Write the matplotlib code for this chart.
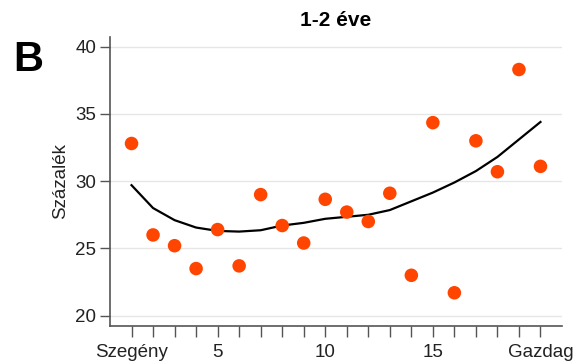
import matplotlib
matplotlib.use("Agg")
import matplotlib.pyplot as plt
import numpy as np

x = list(range(1, 21))
values = [32.8, 26.0, 25.2, 23.5, 26.4, 23.7, 29.0, 26.7, 25.4, 28.65,
          27.7, 27.0, 29.1, 23.0, 34.35, 21.7, 33.0, 30.7, 38.3, 31.1]
fit = [29.7, 28.0, 27.1, 26.55, 26.3, 26.25, 26.35, 26.7, 26.9, 27.2,
       27.35, 27.5, 27.85, 28.5, 29.15, 29.9, 30.75, 31.8, 33.1, 34.4]
xtick_pos = [1, 5, 10, 15, 20]
xtick_labels = ["Szegény", "5", "10", "15", "Gazdag"]
yticks = [20, 25, 30, 35, 40]

plt.rcParams['font.family'] = ['Liberation Sans', 'DejaVu Sans']
fig = plt.figure(figsize=(5.82, 3.62), dpi=100)
ax = fig.add_axes([110/582, 1-326/362, (562-110)/582, (326-36.7)/362])

for yv in yticks:
    ax.axhline(yv, color='#e6e6e6', lw=1, zorder=0)

ax.plot(x, fit, color='black', lw=1.6, zorder=2)
ax.scatter(x, values, s=95, color='#ff4500', edgecolors='none', zorder=3)

ax.set_xlim(0.0, 21.0)
ax.set_ylim(19.23, 40.74)
ax.set_yticks(yticks)
ax.set_xticks(x, minor=True)
ax.set_xticks(xtick_pos)
ax.set_xticklabels(xtick_labels)
ax.tick_params(axis='both', which='both', direction='out', length=7, width=1, color='#555555', labelsize=13.5, colors='#222222')
ax.tick_params(axis='y', which='both', pad=3)
ax.tick_params(axis='x', which='both', length=8, pad=5)
for s in ['top', 'right']:
    ax.spines[s].set_visible(False)
for s in ['left', 'bottom']:
    ax.spines[s].set_color('#555555')
    ax.spines[s].set_linewidth(1.2)
ax.set_ylabel("Százalék", fontsize=13.5, color='#222222', labelpad=4)
ax.set_title("1-2 éve", fontsize=15, fontweight='bold', pad=8)

fig.text(28/582, 1-60/362, "B", fontsize=30, fontweight='bold', ha='center', va='center')

fig.savefig("out.png", dpi=100)
